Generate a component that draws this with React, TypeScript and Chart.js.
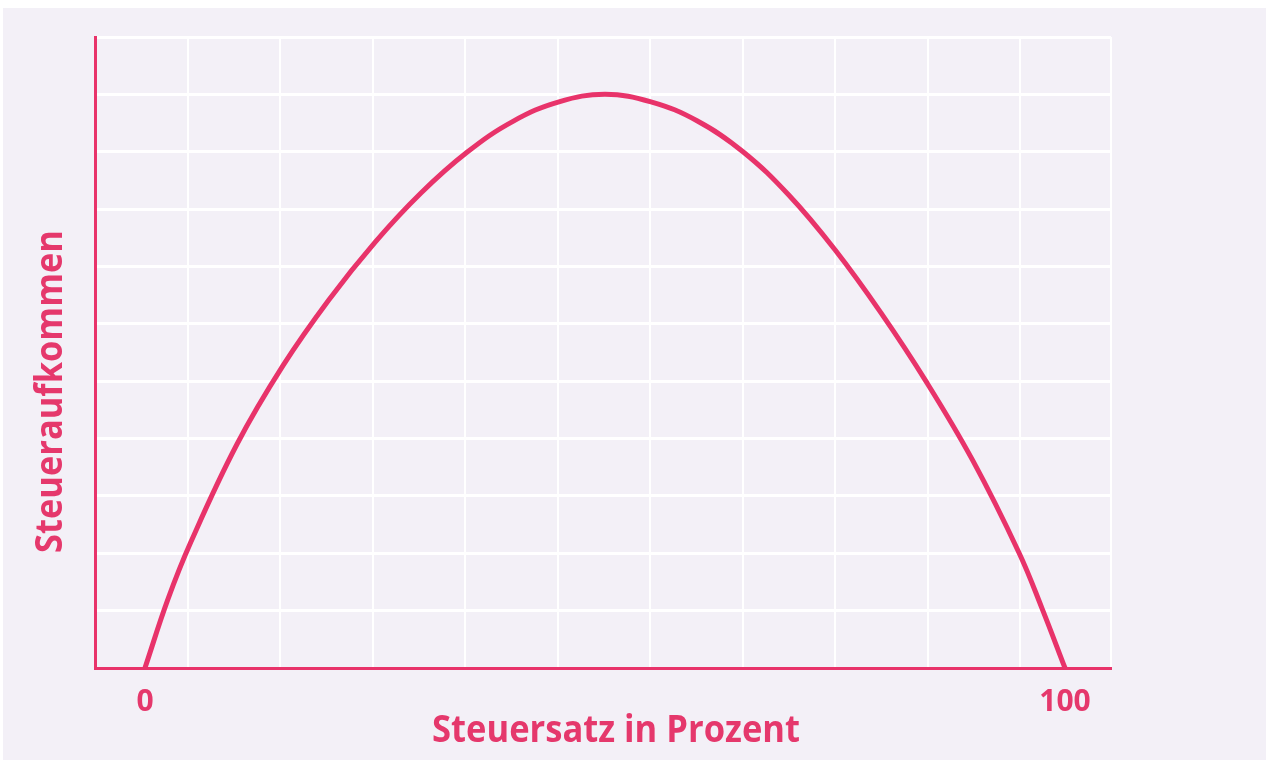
import React, { useEffect, useRef } from 'react';
import { Chart, registerables } from 'chart.js';

Chart.register(...registerables);

// Tax rate (%) and tax revenue (grid units)
const taxRate = [0, 2.5, 5, 10, 15, 20, 25, 30, 35, 40, 45, 50, 55, 60, 65, 70, 75, 80, 85, 90, 95, 97.5, 100];
const revenue = [0, 1.2, 2.2, 3.9, 5.27, 6.42, 7.42, 8.28, 8.99, 9.53, 9.87, 10, 9.87, 9.54, 9.0, 8.24, 7.29, 6.19, 4.97, 3.61, 2.01, 1.04, 0];

// Vertical grid line positions (in tax-rate units) and labelled ticks
const xGridLines = [-5.43, 4.67, 14.67, 24.8, 34.8, 44.9, 54.9, 65.0, 75.0, 85.1, 95.1, 105];
const xTickLabels = [0, 100];
const yMin = 0;
const yMax = 11;

const xTitle = 'Steuersatz in Prozent';
const yTitle = 'Steueraufkommen';

const PINK = '#e8336a';
const TEXT_PINK = '#e5386c';
const LAVENDER = '#f3f0f7';
const TITLE_FONT = "bold 38px 'Open Sans', 'DejaVu Sans', sans-serif";

const W = 1266;
const H = 760;

const backgroundPlugin = {
  id: 'pageBackground',
  beforeDraw(chart: any) {
    const { ctx } = chart;
    ctx.save();
    ctx.fillStyle = '#ffffff';
    ctx.fillRect(0, 0, W, H);
    ctx.fillStyle = LAVENDER;
    ctx.fillRect(3, 8, W - 3, H - 8);
    ctx.restore();
  },
};

function drawSquashed(ctx: any, text: string, targetWidth: number) {
  const m = ctx.measureText(text).width;
  const sx = targetWidth / m;
  ctx.scale(sx, 1);
  ctx.fillText(text, 0, 0);
}

const titlesPlugin = {
  id: 'axisTitles',
  afterDraw(chart: any) {
    const { ctx } = chart;
    ctx.save();
    ctx.fillStyle = TEXT_PINK;
    ctx.font = TITLE_FONT;
    ctx.textAlign = 'center';
    ctx.textBaseline = 'alphabetic';
    // x title
    ctx.save();
    ctx.translate(616, 742);
    drawSquashed(ctx, xTitle, 368);
    ctx.restore();
    // y title
    ctx.save();
    ctx.translate(62, 391.5);
    ctx.rotate(-Math.PI / 2);
    drawSquashed(ctx, yTitle, 323);
    ctx.restore();
    ctx.restore();
  },
};

export default function App() {
  const canvasRef = useRef<HTMLCanvasElement | null>(null);

  useEffect(() => {
    if (!canvasRef.current) return;
    const chart = new Chart(canvasRef.current, {
      type: 'line',
      data: {
        datasets: [
          {
            data: taxRate.map((x, i) => ({ x, y: revenue[i] })),
            borderColor: PINK,
            borderWidth: 5,
            pointRadius: 0,
            pointHoverRadius: 0,
            fill: false,
            tension: 0.4,
          },
        ],
      },
      options: {
        animation: false,
        responsive: false,
        events: [],
        layout: { padding: { left: 95, top: 37, right: W - 1111, bottom: 0 } },
        plugins: {
          legend: { display: false },
          tooltip: { enabled: false },
          title: { display: false },
        },
        scales: {
          x: {
            type: 'linear',
            min: xGridLines[0],
            max: xGridLines[xGridLines.length - 1],
            afterBuildTicks(scale: any) {
              const vals = [...xGridLines, ...xTickLabels].sort((a, b) => a - b);
              scale.ticks = vals.map((v) => ({ value: v }));
            },
            afterFit(scale: any) {
              scale.height = H - 668;
            },
            grid: {
              drawTicks: false,
              lineWidth: 2,
              color: (ctx: any) => {
                const v = ctx.tick ? ctx.tick.value : null;
                if (v === xGridLines[0] || xTickLabels.includes(v)) return 'rgba(0,0,0,0)';
                return '#ffffff';
              },
            },
            border: { display: true, color: PINK, width: 3 },
            ticks: {
              autoSkip: false,
              maxRotation: 0,
              padding: 16,
              color: TEXT_PINK,
              font: { family: "'Open Sans', 'DejaVu Sans', sans-serif", size: 30, weight: 'bold' },
              callback: (value: any) => (xTickLabels.includes(value) ? String(value) : ''),
            },
          },
          y: {
            type: 'linear',
            min: yMin,
            max: yMax,
            afterFit(scale: any) {
              scale.width = 0;
            },
            grid: {
              drawTicks: false,
              lineWidth: 3,
              color: (ctx: any) => (ctx.tick && ctx.tick.value === yMin ? 'rgba(0,0,0,0)' : '#ffffff'),
            },
            border: { display: true, color: PINK, width: 3 },
            ticks: { display: false, stepSize: 1 },
          },
        },
      },
      plugins: [backgroundPlugin, titlesPlugin],
    } as any);
    return () => chart.destroy();
  }, []);

  return (
    <div style={{ position: 'absolute', left: 0, top: 0, width: W, height: H }}>
      <canvas ref={canvasRef} width={W} height={H} style={{ display: 'block', width: W, height: H }} />
    </div>
  );
}
